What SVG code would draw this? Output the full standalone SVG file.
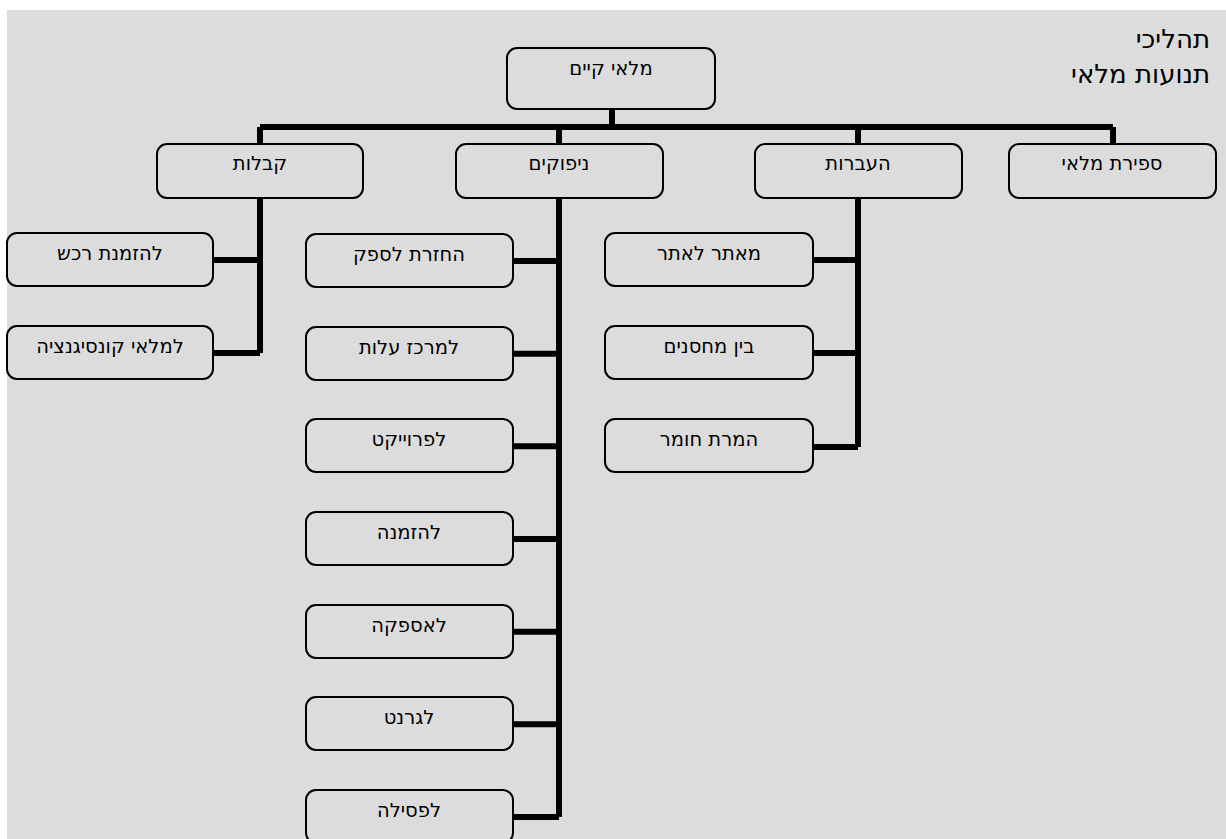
<svg xmlns="http://www.w3.org/2000/svg" width="1226" height="839" viewBox="0 0 1226 839">
<style>
.bg{fill:#dcdcdc}
.box{fill:#dcdcdc;stroke:#000;stroke-width:2}
.lbl{font-family:"DejaVu Sans","Noto Sans",sans-serif;font-size:19.5px;fill:#000;text-anchor:middle}
.ttl{font-family:"DejaVu Sans","Noto Sans",sans-serif;font-size:26px;fill:#000;text-anchor:end}
.ln{fill:none;stroke:#000;stroke-width:6}
</style>
<rect class="bg" x="7" y="10" width="1219" height="829"/>
<g id="title">
<text class="ttl" x="1210" y="48">תהליכי</text>
<text class="ttl" x="1210" y="83">תנועות מלאי</text>
</g>
<g id="connectors">
<path class="ln" d="M612 109V127M260 127H1113M260 127V144M559 127V144M858 127V144M1113 127V144"/>
<path class="ln" d="M260 198V353M213 260H260M213 353H260"/>
<path class="ln" d="M559 198V817M513 261H559M513 353.7H559M513 446.3H559M513 539H559M513 631.7H559M513 724.3H559M513 817H559"/>
<path class="ln" d="M858 198V447M813 260H858M813 353H858M813 447H858"/>
</g>
<g id="n-root"><rect class="box" x="507" y="48" width="208" height="61" rx="10"/><text class="lbl" x="611" y="75">מלאי קיים</text></g>
<g id="n-kabalot"><rect class="box" x="157" y="144" width="206" height="54" rx="10"/><text class="lbl" x="260" y="170">קבלות</text></g>
<g id="n-nipukim"><rect class="box" x="456" y="144" width="207" height="54" rx="10"/><text class="lbl" x="559" y="170">ניפוקים</text></g>
<g id="n-haavarot"><rect class="box" x="755" y="144" width="207" height="54" rx="10"/><text class="lbl" x="858" y="170">העברות</text></g>
<g id="n-sfirat"><rect class="box" x="1009" y="144" width="207" height="54" rx="10"/><text class="lbl" x="1112" y="170">ספירת מלאי</text></g>
<g id="n-hazmanat-rechesh"><rect class="box" x="7" y="233" width="206" height="53" rx="10"/><text class="lbl" x="110" y="260">להזמנת רכש</text></g>
<g id="n-konsignatzia"><rect class="box" x="7" y="326" width="206" height="53" rx="10"/><text class="lbl" x="110" y="353">למלאי קונסיגנציה</text></g>
<g id="n-hachzarat"><rect class="box" x="306" y="234" width="207" height="53" rx="10"/><text class="lbl" x="409" y="261">החזרת לספק</text></g>
<g id="n-merkaz"><rect class="box" x="306" y="327" width="207" height="53" rx="10"/><text class="lbl" x="409" y="354">למרכז עלות</text></g>
<g id="n-proyekt"><rect class="box" x="306" y="419" width="207" height="53" rx="10"/><text class="lbl" x="409" y="446">לפרוייקט</text></g>
<g id="n-hazmana"><rect class="box" x="306" y="512" width="207" height="53" rx="10"/><text class="lbl" x="409" y="539">להזמנה</text></g>
<g id="n-aspaka"><rect class="box" x="306" y="605" width="207" height="53" rx="10"/><text class="lbl" x="409" y="632">לאספקה</text></g>
<g id="n-garant"><rect class="box" x="306" y="697" width="207" height="53" rx="10"/><text class="lbl" x="409" y="724">לגרנט</text></g>
<g id="n-psila"><rect class="box" x="306" y="790" width="207" height="53" rx="10"/><text class="lbl" x="409" y="817">לפסילה</text></g>
<g id="n-meatar"><rect class="box" x="605" y="233" width="208" height="53" rx="10"/><text class="lbl" x="709" y="260">מאתר לאתר</text></g>
<g id="n-bein"><rect class="box" x="605" y="326" width="208" height="53" rx="10"/><text class="lbl" x="709" y="353">בין מחסנים</text></g>
<g id="n-hamarat"><rect class="box" x="605" y="419" width="208" height="53" rx="10"/><text class="lbl" x="709" y="446">המרת חומר</text></g>
</svg>
